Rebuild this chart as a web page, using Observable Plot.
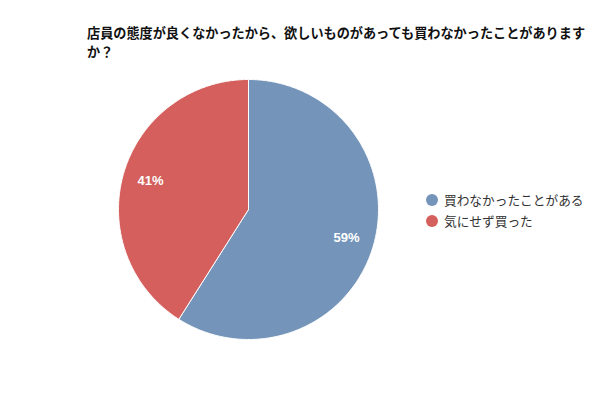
<!DOCTYPE html>
<html><head><meta charset="utf-8">
<script src="https://cdn.jsdelivr.net/npm/d3@7"></script>
<script src="https://cdn.jsdelivr.net/npm/@observablehq/plot@0.6"></script>
<style>
body{margin:0;background:#fff;font-family:"Noto Sans CJK JP","Noto Sans",sans-serif;}
#wrap{position:relative;width:600px;height:400px;overflow:hidden;}
#chart{position:absolute;left:0;top:0;}
#title{position:absolute;left:87px;top:23px;width:505px;font-size:13.15px;font-weight:bold;line-height:19px;color:#111;}
#legend{position:absolute;left:426px;top:189px;font-size:12.7px;color:#333;}
.item{display:flex;align-items:center;height:21px;}
.sw{width:12px;height:12px;border-radius:50%;margin-right:6px;}
</style>
</head><body>
<div id="wrap"><div id="chart"></div><div id="title"></div><div id="legend"></div></div>
<script>
const titleText = "店員の態度が良くなかったから、欲しいものがあっても買わなかったことがありますか？";
const categories = ["買わなかったことがある", "気にせず買った"];
const values = [59, 41];
const labels = ["59%", "41%"];
const colors = ["#7495b9", "#d45f5c"];

document.getElementById("title").textContent = titleText;
const leg = document.getElementById("legend");
categories.forEach((c, i) => {
  const it = document.createElement("div"); it.className = "item";
  const sw = document.createElement("div"); sw.className = "sw"; sw.style.background = colors[i];
  const t = document.createElement("span"); t.textContent = c;
  it.appendChild(sw); it.appendChild(t); leg.appendChild(it);
});

const data = categories.map((c, i) => ({category: c, value: values[i], label: labels[i], color: colors[i]}));
const arcs = d3.pie().sort(null).value(d => d.value)(data);

const sliceMarks = arcs.map(a => {
  const n = Math.max(2, Math.ceil((a.endAngle - a.startAngle) / 0.01));
  const pts = [{x: 0, y: 0}];
  for (let k = 0; k <= n; k++) {
    const ang = a.startAngle + (a.endAngle - a.startAngle) * k / n;
    pts.push({x: Math.sin(ang), y: Math.cos(ang)});
  }
  pts.push({x: 0, y: 0});
  return Plot.line(pts, {x: "x", y: "y", fill: a.data.color, stroke: "white", strokeWidth: 1});
});

const labelPts = arcs.map(a => {
  const m = (a.startAngle + a.endAngle) / 2;
  return {x: 0.785 * Math.sin(m), y: 0.785 * Math.cos(m), label: a.data.label};
});

const cx = 248, cy = 209, R = 130, W = 600, H = 400;
const chart = Plot.plot({
  width: W, height: H, margin: 0,
  style: {fontFamily: "'Liberation Sans','Noto Sans CJK JP',sans-serif", background: "transparent"},
  x: {domain: [-cx / R, (W - cx) / R], axis: null},
  y: {domain: [-(H - cy) / R, cy / R], axis: null},
  marks: [
    ...sliceMarks,
    Plot.text(labelPts, {x: "x", y: "y", text: "label", fill: "white", fontSize: 13, fontWeight: "bold"})
  ]
});
document.getElementById("chart").appendChild(chart);
</script>
</body></html>
